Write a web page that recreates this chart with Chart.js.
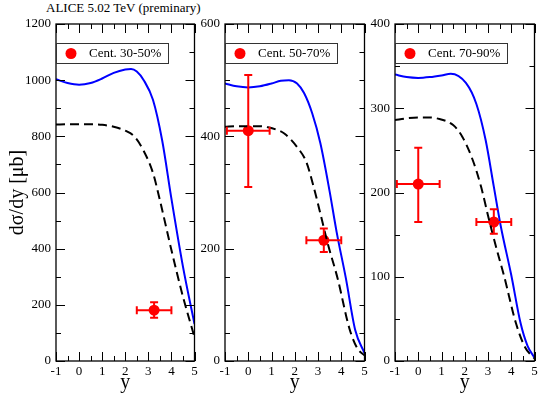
<!DOCTYPE html>
<html>
<head>
<meta charset="utf-8">
<script src="https://cdn.jsdelivr.net/npm/chart.js@4.4.0/dist/chart.umd.min.js"></script>
<style>
body { margin: 0; background: #fff; }
#wrap { position: relative; width: 540px; height: 395px; overflow: hidden; }
canvas { position: absolute; top: 0; }
#title { position: absolute; left: 46px; top: 0; font: 13px "Liberation Serif", serif; color: #000; }
</style>
</head>
<body>
<div id="wrap">
  <div id="title">ALICE 5.02 TeV (preminary)</div>
  <canvas id="c1" width="200" height="395" style="left:0"></canvas>
  <canvas id="c2" width="170" height="395" style="left:200px"></canvas>
  <canvas id="c3" width="170" height="395" style="left:370px"></canvas>
</div>
<script>
// values
const legendLabels = ['Cent. 30-50%', 'Cent. 50-70%', 'Cent. 70-90%'];
const yMax = [1200, 600, 400];
const yStep = [200, 200, 100];
const yMinor = [100, 50, 50];

// 30-50%
const blueY1 = [-1, -0.5, 0, 0.5, 1, 1.5, 2, 2.25, 2.5, 2.8, 3.2, 3.6, 4, 4.5, 5];
const blueV1 = [1003, 990, 984, 990, 1006, 1026, 1038, 1040, 1031, 1000, 930, 785, 578, 336, 132];
const dashY1 = [-1, -0.5, 0, 0.5, 1, 1.5, 2, 2.4, 2.8, 3.2, 3.5, 4, 4.5, 5];
const dashV1 = [842, 843, 843, 843, 841, 834, 820, 799, 748, 670, 573, 395, 229, 85];
const ptY1 = [3.25];
const ptV1 = [181];
const ptXErr1 = [0.75];
const ptLo1 = [154];
const ptHi1 = [209];

// 50-70%
const blueY2 = [-1, -0.5, 0, 0.5, 1, 1.4, 1.75, 2.1, 2.4, 2.75, 3.1, 3.5, 3.8, 4.2, 4.6, 5];
const blueV2 = [494, 489, 487, 489, 494, 499, 500, 494, 477, 441, 388, 302, 230, 147, 55, 14];
const dashY2 = [-1, -0.5, 0, 0.5, 0.85, 1.2, 1.55, 2.1, 2.5, 2.8, 3.1, 3.4, 3.85, 4.35, 4.7, 5];
const dashV2 = [417, 418, 418, 418, 416, 412, 405, 381, 354, 312, 263, 212, 146, 58, 22, 10];
const ptY2 = [0, 3.25];
const ptV2 = [410, 215];
const ptXErr2 = [0.92, 0.75];
const ptLo2 = [310, 194];
const ptHi2 = [509, 236];

// 70-90%
const blueY3 = [-1, -0.5, 0, 0.5, 1, 1.4, 2.05, 2.5, 2.9, 3.25, 3.55, 4, 4.4, 4.7, 5];
const blueV3 = [340, 337, 336, 337, 339, 341, 330, 305, 262, 207, 160, 102, 45, 18, 4];
const dashY3 = [-1, -0.5, 0, 0.5, 0.8, 1.5, 1.9, 2.35, 2.7, 3.05, 3.35, 3.7, 4.2, 4.6, 5];
const dashV3 = [286, 288, 289, 289, 288, 280, 266, 238, 207, 167, 135, 100, 45, 16, 3];
const ptY3 = [0, 3.25];
const ptV3 = [210, 165];
const ptXErr3 = [0.92, 0.75];
const ptLo3 = [165, 151];
const ptHi3 = [253, 180];

const serif = '"Liberation Serif", "DejaVu Serif", serif';

function toXY(xs, vs) {
    return xs.map((x, i) => ({ x: x, y: vs[i] }));
}

// error bars, inward ticks on all sides, frame and boxed legend
const framePlugin = {
    id: 'frame',
    afterDatasetsDraw(chart) {
        const ctx = chart.ctx;
        const xs = chart.scales.x, ys = chart.scales.y;
        chart.data.datasets.forEach(ds => {
            if (!ds.errX) return;
            ctx.save();
            ctx.strokeStyle = '#ff0000';
            ctx.lineWidth = 2;
            ds.data.forEach((p, i) => {
                const cx = xs.getPixelForValue(p.x), cy = ys.getPixelForValue(p.y);
                const x0 = xs.getPixelForValue(p.x - ds.errX[i]), x1 = xs.getPixelForValue(p.x + ds.errX[i]);
                const y0 = ys.getPixelForValue(ds.lo[i]), y1 = ys.getPixelForValue(ds.hi[i]);
                ctx.beginPath();
                ctx.moveTo(x0, cy); ctx.lineTo(x1, cy);
                ctx.moveTo(x0, cy - 4); ctx.lineTo(x0, cy + 4);
                ctx.moveTo(x1, cy - 4); ctx.lineTo(x1, cy + 4);
                ctx.moveTo(cx, y0); ctx.lineTo(cx, y1);
                ctx.moveTo(cx - 4, y0); ctx.lineTo(cx + 4, y0);
                ctx.moveTo(cx - 4, y1); ctx.lineTo(cx + 4, y1);
                ctx.stroke();
            });
            ctx.restore();
        });
    },
    afterDraw(chart) {
        const ctx = chart.ctx, a = chart.chartArea;
        const xs = chart.scales.x, ys = chart.scales.y;
        const o = chart.options.plugins.frame;
        ctx.save();
        ctx.strokeStyle = '#000';
        ctx.lineWidth = 1;
        ctx.beginPath();
        for (let v = xs.min; v <= xs.max + 1e-9; v += 0.5) {
            const px = Math.round(xs.getPixelForValue(v)) + 0.5;
            const len = Math.abs(v - Math.round(v)) < 1e-9 ? 9 : 5;
            ctx.moveTo(px, a.bottom); ctx.lineTo(px, a.bottom - len);
            ctx.moveTo(px, a.top); ctx.lineTo(px, a.top + len);
        }
        for (let v = ys.min; v <= ys.max + 1e-9; v += o.minor) {
            const py = Math.round(ys.getPixelForValue(v)) + 0.5;
            const len = v % o.major === 0 ? 9 : 5;
            ctx.moveTo(a.left, py); ctx.lineTo(a.left + len, py);
            ctx.moveTo(a.right, py); ctx.lineTo(a.right - len, py);
        }
        ctx.stroke();
        ctx.lineWidth = 1.3;
        ctx.strokeRect(a.left, a.top, a.right - a.left, a.bottom - a.top);

        // legend box
        const bx = a.left + o.legendDx, by = 43;
        ctx.fillStyle = '#fff';
        ctx.fillRect(bx, by, 112, 20);
        ctx.strokeStyle = '#333';
        ctx.lineWidth = 1;
        ctx.strokeRect(bx + 0.5, by + 0.5, 112, 20);
        ctx.fillStyle = '#ff0000';
        ctx.beginPath();
        ctx.arc(bx + 15, by + 10.5, 5.5, 0, Math.PI * 2);
        ctx.fill();
        ctx.fillStyle = '#000';
        ctx.font = '13px ' + serif;
        ctx.textBaseline = 'middle';
        ctx.fillText(o.label, bx + 33, by + 11);
        ctx.restore();
    }
};

function makePanel(id, idx, blueY, blueV, dashY, dashV, ptY, ptV, ptXErr, ptLo, ptHi, yWidth, padRight) {
    const ctx = document.getElementById(id).getContext('2d');
    return new Chart(ctx, {
        type: 'scatter',
        data: {
            datasets: [{
                data: toXY(blueY, blueV),
                showLine: true,
                borderColor: '#0000ff',
                borderWidth: 2,
                pointRadius: 0,
                cubicInterpolationMode: 'monotone'
            }, {
                data: toXY(dashY, dashV),
                showLine: true,
                borderColor: '#000',
                borderWidth: 2,
                borderDash: [9, 5],
                pointRadius: 0,
                cubicInterpolationMode: 'monotone'
            }, {
                data: toXY(ptY, ptV),
                errX: ptXErr,
                lo: ptLo,
                hi: ptHi,
                pointRadius: 5.5,
                pointBackgroundColor: '#ff0000',
                pointBorderColor: '#ff0000',
                pointBorderWidth: 0
            }]
        },
        options: {
            responsive: false,
            animation: false,
            layout: { padding: { top: 24, right: padRight, left: 0, bottom: 0 } },
            plugins: {
                legend: { display: false },
                tooltip: { enabled: false },
                frame: { minor: yMinor[idx], major: yStep[idx], label: legendLabels[idx], legendDx: 0 }
            },
            scales: {
                x: {
                    type: 'linear',
                    min: -1,
                    max: 5,
                    grid: { display: false, drawTicks: false },
                    border: { display: false },
                    ticks: {
                        stepSize: 1,
                        padding: 3,
                        autoSkip: false,
                        maxRotation: 0,
                        color: '#000',
                        font: { family: serif, size: 13 },
                        callback: v => String(v)
                    },
                    title: { display: true, text: 'y', color: '#000', font: { family: serif, size: 20 }, padding: 0 },
                    afterFit(s) { s.height = 34; s.paddingLeft = 0; s.paddingRight = 0; }
                },
                y: {
                    min: 0,
                    max: yMax[idx],
                    grid: { display: false, drawTicks: false },
                    border: { display: false },
                    ticks: {
                        stepSize: yStep[idx],
                        padding: 5,
                        color: '#000',
                        font: { family: serif, size: 13 },
                        callback: v => String(v)
                    },
                    title: {
                        display: idx === 0,
                        text: 'dσ/dy [μb]',
                        color: '#000',
                        font: { family: serif, size: 20 },
                        padding: { top: 6, bottom: 0 }
                    },
                    afterFit(s) { s.width = yWidth; s.paddingTop = 0; s.paddingBottom = 0; }
                }
            }
        },
        plugins: [framePlugin]
    });
}

makePanel('c1', 0, blueY1, blueV1, dashY1, dashV1, ptY1, ptV1, ptXErr1, ptLo1, ptHi1, 56, 3);
makePanel('c2', 1, blueY2, blueV2, dashY2, dashV2, ptY2, ptV2, ptXErr2, ptLo2, ptHi2, 25, 3.3);
makePanel('c3', 2, blueY3, blueV3, dashY3, dashV3, ptY3, ptV3, ptXErr3, ptLo3, ptHi3, 25, 4.3);
</script>
</body>
</html>
